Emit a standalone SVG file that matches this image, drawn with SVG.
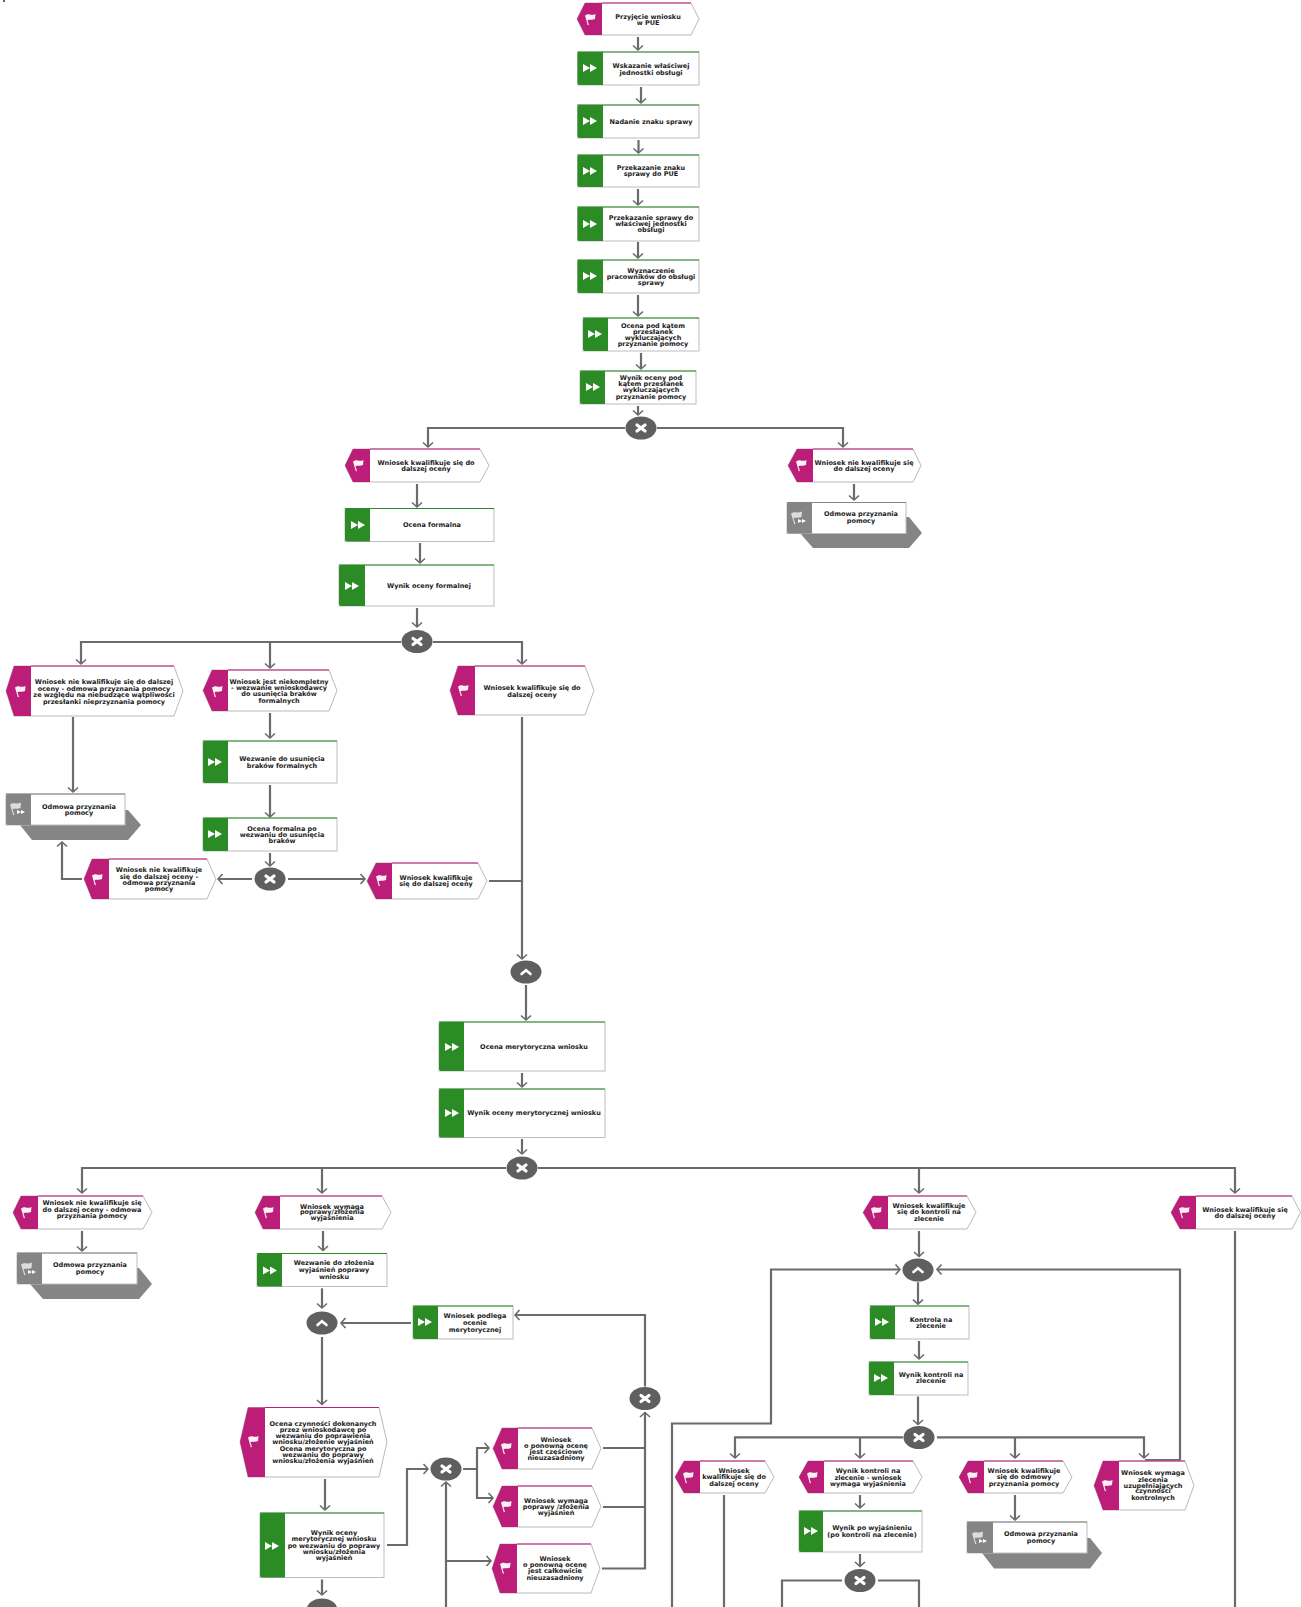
<svg xmlns="http://www.w3.org/2000/svg" width="1301" height="1607" viewBox="0 0 1301 1607">
<style>
text{font-family:"DejaVu Sans","Liberation Sans",sans-serif;font-weight:700;font-size:6.500px;fill:#1c1c1c;text-anchor:middle;dominant-baseline:central;transform:translateY(-.2px)}
.b{fill:#fff;stroke:#bdbdbd;stroke-width:1}
.ev{fill:#fff;stroke:#bdb8ba;stroke-width:1}
.evp{fill:#bb1d78}
.evt{stroke:#bb1d78;stroke-width:1.200;fill:none}
.gr{fill:#2b8c26}
.grt{stroke:#2b8c26;stroke-width:1.200;fill:none}
.gy{fill:#858585}
.gt{stroke:#858585;stroke-width:1;fill:none}
.c{fill:none;stroke:#6b6b6b;stroke-width:2.200}
.a{marker-end:url(#arr)}
.gw{fill:#5f5f5f}
</style>
<defs>
<marker id="arr" markerUnits="userSpaceOnUse" markerWidth="14" markerHeight="14" refX="7" refY="7" orient="auto" overflow="visible"><path d="M2.500,2 L7,7 L2.500,12" fill="none" stroke="#6b6b6b" stroke-width="1.600"/></marker>
<path id="flag" fill="#fbeef5" d="M-5,-3.500 L-3,-4.500 C-1,-5.500 1,-3 5.500,-5 L5,0 C2,1.500 0,0 -2.500,1.200 L-1,6 L-2.200,6.200 Z"/>
<path id="ff" fill="#fff" d="M-7,-4 L0,0 L-7,4 Z M0,-4 L7,0 L0,4 Z"/>
<g id="fg"><path fill="#dcdcdc" d="M-7,-4.500 L-5,-5.500 C-3,-6.500 -1,-4.500 4,-6.500 L3.500,-1 C0,.500 -2,-1 -4.500,0 L-2.500,6 L-3.700,6.200 Z"/><path fill="#fff" d="M0,1 L4,3 L0,5 Z M4,1 L8,3 L4,5 Z"/></g>
<path id="xx" fill="none" stroke="#fff" stroke-width="3.200" stroke-linecap="round" d="M-4,-3 L4,3 M4,-3 L-4,3"/>
<path id="up" fill="none" stroke="#fff" stroke-width="2.600" stroke-linecap="round" d="M-4.500,2 L0,-1.800 L4.500,2"/>
</defs>

<rect x="3" y="0" width="2" height="2" fill="#666"/>

<g id="connectors">
<path class="c a" d="M638,37V50"/><path class="c a" d="M641,87V103"/><path class="c a" d="M638.500,140V153"/><path class="c a" d="M638,189V205"/><path class="c a" d="M638,242V258"/><path class="c a" d="M638,295V316"/><path class="c a" d="M641,353V369"/><path class="c a" d="M638,406V415"/>
<path class="c a" d="M625,428H428V447"/><path class="c a" d="M657,428H843V447"/>
<path class="c a" d="M854,484V500"/>
<path class="c a" d="M417,484V507"/><path class="c a" d="M420,543V563"/><path class="c a" d="M417,608V627"/>
<path class="c a" d="M433,642H522V664"/><path class="c a" d="M401,642H81V664"/><path class="c a" d="M270,642V668"/>
<path class="c a" d="M73,717V792"/><path class="c a" d="M270,713V738"/><path class="c a" d="M270,785V817"/><path class="c a" d="M270,853V866"/>
<path class="c a" d="M252,879H218"/><path class="c a" d="M82,879H62V842"/><path class="c a" d="M288,879H365"/>
<path class="c a" d="M522,717V959"/><path class="c" d="M489,881H522"/>
<path class="c a" d="M526,985V1020"/><path class="c a" d="M522,1073V1087"/><path class="c a" d="M522,1139V1154"/>
<path class="c a" d="M506,1168H82V1193"/><path class="c a" d="M322,1168V1193"/><path class="c a" d="M538,1168H1235V1193"/><path class="c a" d="M919,1168V1193"/>
<path class="c a" d="M82,1231V1251"/><path class="c a" d="M323,1231V1250.500"/><path class="c a" d="M322,1288.300V1308"/><path class="c a" d="M411,1323H341"/><path class="c a" d="M322,1337V1404.500"/><path class="c a" d="M325,1479V1510"/><path class="c a" d="M322,1579.500V1595"/>
<path class="c a" d="M387,1545H407V1469H428"/><path class="c a" d="M463,1469H477V1448H489"/><path class="c a" d="M477,1469V1498H493"/>
<path class="c a" d="M446,1607V1482"/><path class="c a" d="M446,1561H491"/>
<path class="c" d="M603,1448H645"/><path class="c" d="M603,1507H645"/><path class="c a" d="M602,1568.500H645V1412.500"/>
<path class="c a" d="M645,1386.500V1315H515"/>
<path class="c a" d="M672,1607V1423.500H771V1269.500H900"/>
<path class="c a" d="M919,1231V1256.500"/><path class="c a" d="M1145,1460H1180V1269.500H937"/>
<path class="c a" d="M918,1282.300V1304.200"/><path class="c a" d="M919,1341V1359"/><path class="c a" d="M918,1396.500V1424.500"/>
<path class="c a" d="M903,1437.300H735V1458"/><path class="c a" d="M860,1437.300V1458"/><path class="c a" d="M937,1437.300H1144V1458"/><path class="c a" d="M1015,1437.300V1458"/>
<path class="c" d="M724,1495V1607"/><path class="c a" d="M860,1495V1508"/><path class="c a" d="M860,1554V1566.500"/><path class="c a" d="M1015,1495V1520"/>
<path class="c" d="M842,1580.500H782V1607"/><path class="c" d="M878,1580.500H919V1607"/><path class="c" d="M1235,1231V1607"/>
</g>

<g id="e1"><polygon class="ev" points="577,19 585,3 691,3 699,19 691,35 585,35"/><path class="evp" d="M577,19L585,3H602V35H585Z"/><path class="evt" d="M602,3H691"/><use href="#flag" x="590" y="19"/><text x="648"><tspan x="648" y="17">Przyjęcie wniosku</tspan><tspan x="648" y="23">w PUE</tspan></text></g>
<g id="t2"><rect class="b" x="577.500" y="52" width="121.500" height="33"/><path class="gr" d="M579.500,52H603V85H579.500Q577.500,85 577.500,83V54Q577.500,52 579.500,52Z"/><path class="grt" d="M577.500,52H699"/><use href="#ff" x="590" y="68"/><text><tspan x="651" y="66">Wskazanie właściwej</tspan><tspan x="651" y="73">jednostki obsługi</tspan></text></g>
<g id="t3"><rect class="b" x="577.500" y="105" width="121.500" height="33"/><path class="gr" d="M579.500,105H603V138H579.500Q577.500,138 577.500,136V107Q577.500,105 579.500,105Z"/><path class="grt" d="M577.500,105H699"/><use href="#ff" x="590" y="121"/><text><tspan x="651" y="122">Nadanie znaku sprawy</tspan></text></g>
<g id="t4"><rect class="b" x="577.500" y="155" width="121.500" height="32"/><path class="gr" d="M579.500,155H603V187H579.500Q577.500,187 577.500,185V157Q577.500,155 579.500,155Z"/><path class="grt" d="M577.500,155H699"/><use href="#ff" x="590" y="171"/><text><tspan x="651" y="168">Przekazanie znaku</tspan><tspan x="651" y="174">sprawy do PUE</tspan></text></g>
<g id="t5"><rect class="b" x="577.500" y="207" width="121.500" height="34"/><path class="gr" d="M579.500,207H603V241H579.500Q577.500,241 577.500,239V209Q577.500,207 579.500,207Z"/><path class="grt" d="M577.500,207H699"/><use href="#ff" x="590" y="224"/><text><tspan x="651" y="218">Przekazanie sprawy do</tspan><tspan x="651" y="224">właściwej jednostki</tspan><tspan x="651" y="230">obsługi</tspan></text></g>
<g id="t6"><rect class="b" x="577.500" y="260" width="121.500" height="33"/><path class="gr" d="M579.500,260H603V293H579.500Q577.500,293 577.500,291V262Q577.500,260 579.500,260Z"/><path class="grt" d="M577.500,260H699"/><use href="#ff" x="590" y="276"/><text><tspan x="651" y="271">Wyznaczenie</tspan><tspan x="651" y="277">pracowników do obsługi</tspan><tspan x="651" y="283">sprawy</tspan></text></g>
<g id="t7"><rect class="b" x="583" y="318" width="116" height="33"/><path class="gr" d="M585,318H608V351H585Q583,351 583,349V320Q583,318 585,318Z"/><path class="grt" d="M583,318H699"/><use href="#ff" x="595" y="334"/><text><tspan x="653" y="326">Ocena pod kątem</tspan><tspan x="653" y="332">przesłanek</tspan><tspan x="653" y="338">wykluczających</tspan><tspan x="653" y="344">przyznanie pomocy</tspan></text></g>
<g id="t8"><rect class="b" x="580" y="371" width="116" height="33"/><path class="gr" d="M582,371H605V404H582Q580,404 580,402V373Q580,371 582,371Z"/><path class="grt" d="M580,371H696"/><use href="#ff" x="593" y="387"/><text><tspan x="651" y="378">Wynik oceny pod</tspan><tspan x="651" y="384">kątem przesłanek</tspan><tspan x="651" y="390">wykluczających</tspan><tspan x="651" y="397">przyznanie pomocy</tspan></text></g>
<g id="g1"><ellipse class="gw" cx="641" cy="428" rx="15.500" ry="11.500"/><use href="#xx" x="641" y="428"/></g>

<g id="e2"><polygon class="ev" points="788,465.500 797,449 913,449 921,465.500 913,482 797,482"/><path class="evp" d="M788,465.500L797,449H813V482H797Z"/><path class="evt" d="M813,449H913"/><use href="#flag" x="801" y="465"/><text><tspan x="864" y="463">Wniosek nie kwalifikuje się</tspan><tspan x="864" y="469">do dalszej oceny</tspan></text></g>
<g id="o1"><polygon class="gy" points="800,533 813,548 909,548 922,533 909,517 800,517"/><rect class="b" x="787" y="502.500" width="119" height="31"/><path class="gy" d="M789,502.500H812V533.500H789Q787,533.500 787,531.500V504.500Q787,502.500 789,502.500Z"/><path class="gt" d="M787,502.500H906"/><use href="#fg" x="798" y="518"/><text><tspan x="861" y="514">Odmowa przyznania</tspan><tspan x="861" y="521">pomocy</tspan></text></g>
<g id="e3"><polygon class="ev" points="345,465.500 353,449 480,449 489,465.500 480,482 353,482"/><path class="evp" d="M345,465.500L353,449H370V482H353Z"/><path class="evt" d="M370,449H480"/><use href="#flag" x="358" y="465"/><text><tspan x="426" y="463">Wniosek kwalifikuje się do</tspan><tspan x="426" y="469">dalszej oceny</tspan></text></g>
<g id="t9"><rect class="b" x="345" y="508.500" width="149" height="33"/><path class="gr" d="M347,508.500H370V541.500H347Q345,541.500 345,539.500V510.500Q345,508.500 347,508.500Z"/><path class="grt" d="M345,508.500H494"/><use href="#ff" x="358" y="525"/><text><tspan x="432" y="525">Ocena formalna</tspan></text></g>
<g id="t10"><rect class="b" x="339" y="565" width="155" height="41"/><path class="gr" d="M341,565H365V606H341Q339,606 339,604V567Q339,565 341,565Z"/><path class="grt" d="M339,565H494"/><use href="#ff" x="352" y="586"/><text><tspan x="429" y="586">Wynik oceny formalnej</tspan></text></g>
<g id="g2"><ellipse class="gw" cx="417" cy="641.500" rx="15.500" ry="11.500"/><use href="#xx" x="417" y="641.500"/></g>

<g id="e4"><polygon class="ev" points="6,691 14,666 174,666 183,691 174,716 14,716"/><path class="evp" d="M6,691L14,666H31V716H14Z"/><path class="evt" d="M31,666H174"/><use href="#flag" x="20" y="691"/><text><tspan x="104" y="682">Wniosek nie kwalifikuje się do dalszej</tspan><tspan x="104" y="689">oceny  - odmowa przyznania pomocy</tspan><tspan x="104" y="695">ze względu na niebudzące wątpliwości</tspan><tspan x="104" y="702">przesłanki nieprzyznania pomocy</tspan></text></g>
<g id="e5"><polygon class="ev" points="203,690.500 212,670 329,670 337,690.500 329,711 212,711"/><path class="evp" d="M203,690.500L212,670H228V711H212Z"/><path class="evt" d="M228,670H329"/><use href="#flag" x="217" y="691"/><text><tspan x="279" y="682">Wniosek jest niekompletny</tspan><tspan x="279" y="688">- wezwanie wnioskodawcy</tspan><tspan x="279" y="694">do usunięcia braków</tspan><tspan x="279" y="701">formalnych</tspan></text></g>
<g id="e6"><polygon class="ev" points="450,690.500 458,666 585,666 594,690.500 585,715 458,715"/><path class="evp" d="M450,690.500L458,666H475V715H458Z"/><path class="evt" d="M475,666H585"/><use href="#flag" x="463" y="690"/><text><tspan x="532" y="688">Wniosek kwalifikuje się do</tspan><tspan x="532" y="695">dalszej oceny</tspan></text></g>
<g id="o2"><polygon class="gy" points="20,825 32,840 128,840 141,825 128,810 20,810"/><rect class="b" x="6" y="794" width="119" height="31"/><path class="gy" d="M8,794H31V825H8Q6,825 6,823V796Q6,794 8,794Z"/><path class="gt" d="M6,794H125"/><use href="#fg" x="17" y="809"/><text><tspan x="79" y="807">Odmowa przyznania</tspan><tspan x="79" y="813">pomocy</tspan></text></g>
<g id="t11"><rect class="b" x="203" y="741" width="134" height="42"/><path class="gr" d="M205,741H228V783H205Q203,783 203,781V743Q203,741 205,741Z"/><path class="grt" d="M203,741H337"/><use href="#ff" x="215" y="762"/><text><tspan x="282" y="759">Wezwanie do usunięcia</tspan><tspan x="282" y="766">braków formalnych</tspan></text></g>
<g id="t12"><rect class="b" x="203" y="818" width="134" height="33"/><path class="gr" d="M205,818H228V851H205Q203,851 203,849V820Q203,818 205,818Z"/><path class="grt" d="M203,818H337"/><use href="#ff" x="215" y="834"/><text><tspan x="282" y="829">Ocena formalna po</tspan><tspan x="282" y="835">wezwaniu do usunięcia</tspan><tspan x="282" y="841">braków</tspan></text></g>
<g id="g3"><ellipse class="gw" cx="270" cy="879" rx="15.500" ry="11.500"/><use href="#xx" x="270" y="879"/></g>
<g id="e7"><polygon class="ev" points="84,879 92,859 207,859 216,879 207,899 92,899"/><path class="evp" d="M84,879L92,859H109V899H92Z"/><path class="evt" d="M109,859H207"/><use href="#flag" x="97" y="879"/><text><tspan x="159" y="870">Wniosek nie kwalifikuje</tspan><tspan x="159" y="877">się do dalszej oceny -</tspan><tspan x="159" y="883">odmowa przyznania</tspan><tspan x="159" y="889">pomocy</tspan></text></g>
<g id="e8"><polygon class="ev" points="367,881 376,863 478,863 487,881 478,899 376,899"/><path class="evp" d="M367,881L376,863H392V899H376Z"/><path class="evt" d="M392,863H478"/><use href="#flag" x="381" y="880"/><text><tspan x="436" y="878">Wniosek kwalifikuje</tspan><tspan x="436" y="884">się do dalszej oceny</tspan></text></g>
<g id="g4"><ellipse class="gw" cx="526" cy="972" rx="15.500" ry="11.500"/><use href="#up" x="526" y="972"/></g>
<g id="t13"><rect class="b" x="439" y="1022" width="166" height="49"/><path class="gr" d="M441,1022H464V1071H441Q439,1071 439,1069V1024Q439,1022 441,1022Z"/><path class="grt" d="M439,1022H605"/><use href="#ff" x="452" y="1047"/><text><tspan x="534" y="1047">Ocena merytoryczna wniosku</tspan></text></g>
<g id="t14"><rect class="b" x="439" y="1089" width="166" height="48.500"/><path class="gr" d="M441,1089H464V1137.500H441Q439,1137.500 439,1135.500V1091Q439,1089 441,1089Z"/><path class="grt" d="M439,1089H605"/><use href="#ff" x="452" y="1113"/><text><tspan x="534" y="1113">Wynik oceny merytorycznej wniosku</tspan></text></g>
<g id="g5"><ellipse class="gw" cx="522" cy="1168" rx="15.500" ry="11.500"/><use href="#xx" x="522" y="1168"/></g>

<g id="e9"><polygon class="ev" points="13,1212.500 21,1196 143,1196 152,1212.500 143,1229 21,1229"/><path class="evp" d="M13,1212.500L21,1196H38V1229H21Z"/><path class="evt" d="M38,1196H143"/><use href="#flag" x="26" y="1212"/><text><tspan x="92" y="1203">Wniosek nie kwalifikuje się</tspan><tspan x="92" y="1210">do dalszej oceny  - odmowa</tspan><tspan x="92" y="1216">przyznania pomocy</tspan></text></g>
<g id="o3"><polygon class="gy" points="30,1284 43,1299 139,1299 152,1284 139,1268 30,1268"/><rect class="b" x="17" y="1253" width="120" height="31"/><path class="gy" d="M19,1253H42V1284H19Q17,1284 17,1282V1255Q17,1253 19,1253Z"/><path class="gt" d="M17,1253H137"/><use href="#fg" x="28" y="1269"/><text><tspan x="90" y="1265">Odmowa przyznania</tspan><tspan x="90" y="1272">pomocy</tspan></text></g>
<g id="e10"><polygon class="ev" points="255,1212.500 263,1196 382,1196 391,1212.500 382,1229 263,1229"/><path class="evp" d="M255,1212.500L263,1196H280V1229H263Z"/><path class="evt" d="M280,1196H382"/><use href="#flag" x="268" y="1212"/><text><tspan x="332" y="1207">Wniosek wymaga</tspan><tspan x="332" y="1212">poprawy/złożenia</tspan><tspan x="332" y="1218">wyjaśnienia</tspan></text></g>
<g id="t15"><rect class="b" x="257" y="1253.500" width="130" height="33"/><path class="gr" d="M259,1253.500H282V1286.500H259Q257,1286.500 257,1284.500V1255.500Q257,1253.500 259,1253.500Z"/><path class="grt" d="M257,1253.500H387"/><use href="#ff" x="270" y="1270.400"/><text><tspan x="334" y="1263.400">Wezwanie do złożenia</tspan><tspan x="334" y="1270.400">wyjaśnień poprawy</tspan><tspan x="334" y="1277.300">wniosku</tspan></text></g>
<g id="g6"><ellipse class="gw" cx="322" cy="1323" rx="15.500" ry="11.500"/><use href="#up" x="322" y="1323"/></g>
<g id="t16"><rect class="b" x="413" y="1306" width="100" height="33"/><path class="gr" d="M415,1306H438V1339H415Q413,1339 413,1337V1308Q413,1306 415,1306Z"/><path class="grt" d="M413,1306H513"/><use href="#ff" x="425" y="1322"/><text><tspan x="475" y="1316">Wniosek podlega</tspan><tspan x="475" y="1323">ocenie</tspan><tspan x="475" y="1330">merytorycznej</tspan></text></g>
<g id="e13"><polygon class="ev" points="240,1442 248,1407.500 379,1407.500 387,1442 379,1477 248,1477"/><path class="evp" d="M240,1442L248,1407.500H265V1477H248Z"/><path class="evt" d="M265,1407.500H379"/><use href="#flag" x="253" y="1441"/><text><tspan x="323" y="1424">Ocena czynności dokonanych</tspan><tspan x="323" y="1430">przez wnioskodawcę po</tspan><tspan x="323" y="1436">wezwaniu do poprawienia</tspan><tspan x="323" y="1442">wniosku/złożenie wyjaśnień</tspan><tspan x="323" y="1449">Ocena merytoryczna po</tspan><tspan x="323" y="1455">wezwaniu do poprawy</tspan><tspan x="323" y="1461">wniosku/złożenia wyjaśnień</tspan></text></g>
<g id="t17"><rect class="b" x="260" y="1513" width="124" height="64.500"/><path class="gr" d="M262,1513H285V1577.500H262Q260,1577.500 260,1575.500V1515Q260,1513 262,1513Z"/><path class="grt" d="M260,1513H384"/><use href="#ff" x="272" y="1546"/><text><tspan x="334" y="1533">Wynik oceny</tspan><tspan x="334" y="1539">merytorycznej wniosku</tspan><tspan x="334" y="1546">po wezwaniu do poprawy</tspan><tspan x="334" y="1552">wniosku/złożenia</tspan><tspan x="334" y="1558">wyjaśnień</tspan></text></g>
<g id="g7"><ellipse class="gw" cx="322" cy="1610" rx="15.500" ry="11.500"/></g>
<g id="g8"><ellipse class="gw" cx="446" cy="1469" rx="15.500" ry="11.500"/><use href="#xx" x="446" y="1469"/></g>
<g id="e14"><polygon class="ev" points="493,1448.500 502,1428 592,1428 601,1448.500 592,1469 502,1469"/><path class="evp" d="M493,1448.500L502,1428H518V1469H502Z"/><path class="evt" d="M518,1428H592"/><use href="#flag" x="506" y="1448"/><text><tspan x="556" y="1440">Wniosek</tspan><tspan x="556" y="1446">o ponowną ocenę</tspan><tspan x="556" y="1452">jest częściowo</tspan><tspan x="556" y="1458">nieuzasadniony</tspan></text></g>
<g id="e15"><polygon class="ev" points="493,1506.500 502,1486 592,1486 601,1506.500 592,1527 502,1527"/><path class="evp" d="M493,1506.500L502,1486H518V1527H502Z"/><path class="evt" d="M518,1486H592"/><use href="#flag" x="506" y="1506"/><text><tspan x="556" y="1501">Wniosek wymaga</tspan><tspan x="556" y="1507">poprawy /złożenia</tspan><tspan x="556" y="1513">wyjaśnień</tspan></text></g>
<g id="e16"><polygon class="ev" points="492,1568.500 500,1544 591,1544 600,1568.500 591,1593 500,1593"/><path class="evp" d="M492,1568.500L500,1544H517V1593H500Z"/><path class="evt" d="M517,1544H591"/><use href="#flag" x="505" y="1567.500"/><text><tspan x="555" y="1559">Wniosek</tspan><tspan x="555" y="1565.500">o ponowną ocenę</tspan><tspan x="555" y="1571.500">jest całkowicie</tspan><tspan x="555" y="1578.500">nieuzasadniony</tspan></text></g>
<g id="g9"><ellipse class="gw" cx="645" cy="1398.500" rx="15.500" ry="11.500"/><use href="#xx" x="645" y="1398.500"/></g>

<g id="e11"><polygon class="ev" points="863,1212.500 873,1196 967,1196 976,1212.500 967,1229 873,1229"/><path class="evp" d="M863,1212.500L873,1196H888V1229H873Z"/><path class="evt" d="M888,1196H967"/><use href="#flag" x="876" y="1212"/><text><tspan x="929" y="1206">Wniosek kwalifikuje</tspan><tspan x="929" y="1212">się do kontroli na</tspan><tspan x="929" y="1219">zlecenie</tspan></text></g>
<g id="e12"><polygon class="ev" points="1171,1212.500 1180,1196 1292,1196 1300.500,1212.500 1292,1229 1180,1229"/><path class="evp" d="M1171,1212.500L1180,1196H1196V1229H1180Z"/><path class="evt" d="M1196,1196H1292"/><use href="#flag" x="1184" y="1212"/><text><tspan x="1245" y="1210">Wniosek kwalifikuje się</tspan><tspan x="1245" y="1216">do dalszej oceny</tspan></text></g>
<g id="g10"><ellipse class="gw" cx="918" cy="1270" rx="15.500" ry="11.500"/><use href="#up" x="918" y="1270"/></g>
<g id="t18"><rect class="b" x="870" y="1306" width="99" height="33"/><path class="gr" d="M872,1306H895V1339H872Q870,1339 870,1337V1308Q870,1306 872,1306Z"/><path class="grt" d="M870,1306H969"/><use href="#ff" x="882" y="1322"/><text><tspan x="931" y="1320">Kontrola na</tspan><tspan x="931" y="1326">zlecenie</tspan></text></g>
<g id="t19"><rect class="b" x="869" y="1362" width="99" height="33"/><path class="gr" d="M871,1362H894V1395H871Q869,1395 869,1393V1364Q869,1362 871,1362Z"/><path class="grt" d="M869,1362H968"/><use href="#ff" x="881" y="1378"/><text><tspan x="931" y="1375">Wynik kontroli na</tspan><tspan x="931" y="1381">zlecenie</tspan></text></g>
<g id="g11"><ellipse class="gw" cx="919" cy="1437.500" rx="15.500" ry="11.500"/><use href="#xx" x="919" y="1437.500"/></g>
<g id="e17"><polygon class="ev" points="675,1477 684,1461 765,1461 774,1477 765,1493 684,1493"/><path class="evp" d="M675,1477L684,1461H700V1493H684Z"/><path class="evt" d="M700,1461H765"/><use href="#flag" x="688" y="1477"/><text><tspan x="734" y="1471">Wniosek</tspan><tspan x="734" y="1477">kwalifikuje się do</tspan><tspan x="734" y="1484">dalszej oceny</tspan></text></g>
<g id="e18"><polygon class="ev" points="799,1477 808,1461 913,1461 922,1477 913,1493 808,1493"/><path class="evp" d="M799,1477L808,1461H824V1493H808Z"/><path class="evt" d="M824,1461H913"/><use href="#flag" x="812" y="1477"/><text><tspan x="868" y="1471">Wynik kontroli na</tspan><tspan x="868" y="1478">zlecenie  - wniosek</tspan><tspan x="868" y="1484">wymaga wyjaśnienia</tspan></text></g>
<g id="t20"><rect class="b" x="799" y="1511" width="123" height="41"/><path class="gr" d="M801,1511H823V1552H801Q799,1552 799,1550V1513Q799,1511 801,1511Z"/><path class="grt" d="M799,1511H922"/><use href="#ff" x="811" y="1531"/><text><tspan x="872" y="1528">Wynik po wyjaśnieniu</tspan><tspan x="872" y="1535">(po kontroli na zlecenie)</tspan></text></g>
<g id="g12"><ellipse class="gw" cx="860" cy="1580.500" rx="15.500" ry="11.500"/><use href="#xx" x="860" y="1580.500"/></g>
<g id="e19"><polygon class="ev" points="959,1477 968,1461 1063,1461 1072,1477 1063,1493 968,1493"/><path class="evp" d="M959,1477L968,1461H984V1493H968Z"/><path class="evt" d="M984,1461H1063"/><use href="#flag" x="972" y="1477"/><text><tspan x="1024" y="1471">Wniosek kwalifikuje</tspan><tspan x="1024" y="1477">się do odmowy</tspan><tspan x="1024" y="1484">przyznania pomocy</tspan></text></g>
<g id="o4"><polygon class="gy" points="982,1553 994,1568.500 1090,1568.500 1102,1553 1090,1538 982,1538"/><rect class="b" x="967" y="1522" width="120" height="31"/><path class="gy" d="M969,1522H993V1553H969Q967,1553 967,1551V1524Q967,1522 969,1522Z"/><path class="gt" d="M967,1522H1087"/><use href="#fg" x="979" y="1538"/><text><tspan x="1041" y="1534">Odmowa przyznania</tspan><tspan x="1041" y="1541">pomocy</tspan></text></g>
<g id="e20"><polygon class="ev" points="1094,1485.500 1103,1461 1185,1461 1194,1485.500 1185,1510 1103,1510"/><path class="evp" d="M1094,1485.500L1103,1461H1119V1510H1103Z"/><path class="evt" d="M1119,1461H1185"/><use href="#flag" x="1107" y="1485"/><text><tspan x="1153" y="1473">Wniosek wymaga</tspan><tspan x="1153" y="1480">zlecenia</tspan><tspan x="1153" y="1486">uzupełniających</tspan><tspan x="1153" y="1491">czynności</tspan><tspan x="1153" y="1498">kontrolnych</tspan></text></g>
</svg>
